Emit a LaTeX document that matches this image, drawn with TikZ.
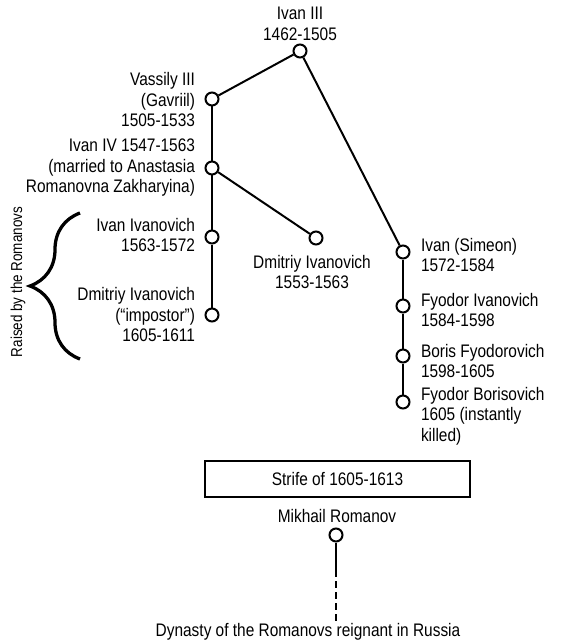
\documentclass[tikz,border=0pt]{standalone}
\usepackage{fontspec}
\setmainfont{Liberation Sans}[FakeStretch=0.85]
\usetikzlibrary{decorations.pathreplacing}

\begin{document}
\begin{tikzpicture}[x=0.03cm, y=-0.03cm, line width=1.7pt,
    every node/.style={font=\fontsize{15.5}{17.5}\selectfont, inner sep=0pt},
    ruler/.style={circle, draw, minimum size=0.39cm},
    lbl/.style={align=right, anchor=east},
    rlbl/.style={align=left, anchor=west}]
    \useasboundingbox (0,0) rectangle (564,642);
    % rulers
    \node[ruler] (ivanIII) at (300,51) {};
    \node[ruler] (vassily) at (212,99) {};
    \node[ruler] (ivanIV) at (212,168) {};
    \node[ruler] (ivanIvan) at (212,237) {};
    \node[ruler] (dmitriyImp) at (212,315) {};
    \node[ruler] (dmitriy) at (316,238) {};
    \node[ruler] (simeon) at (403,252) {};
    \node[ruler] (fyodorI) at (403,306) {};
    \node[ruler] (boris) at (403,356) {};
    \node[ruler] (fyodorB) at (403,402) {};
    \node[ruler] (mikhail) at (336,535) {};
    \coordinate (solidEnd) at (336,577);
    \coordinate (dashEnd) at (336,621);
    % names
    \node[align=center] (ivanIIIname) at (300,24) {Ivan III\\1462-1505};
    \node[lbl] (vassilyName) at (196,100) {Vassily III\\(Gavriil)\\1505-1533};
    \node[lbl] (ivanIVname) at (196,168) {Ivan IV 1547-1563\\(married to Anastasia\\Romanovna Zakharyina)};
    \node[lbl] (ivanIvanName) at (196,235) {Ivan Ivanovich\\1563-1572};
    \node[lbl] (dmitriyImpName) at (196,315) {Dmitriy Ivanovich\\(“impostor”)\\1605-1611};
    \node[align=center] (dmitriyName) at (312,272) {Dmitriy Ivanovich\\1553-1563};
    \node[rlbl] (simeonName) at (420,255) {Ivan (Simeon)\\1572-1584};
    \node[rlbl] (fyodorIname) at (420,310) {Fyodor Ivanovich\\1584-1598};
    \node[rlbl] (borisName) at (420,361) {Boris Fyodorovich\\1598-1605};
    \node[rlbl] (fyodorBname) at (420,416) {Fyodor Borisovich\\1605 (instantly\\killed)};
    \node[draw, minimum width=7.95cm, minimum height=1.08cm] (strife) at (337.5,479) {Strife of 1605-1613};
    \node (mikhailName) at (337,516) {Mikhail Romanov};
    \node (dynasty) at (308,632) {Dynasty of the Romanovs reignant in Russia};
    \node[rotate=90, font=\fontsize{13.5}{15}\selectfont] (raised) at (18,282) {Raised by the Romanovs};
    % lines
    \draw (ivanIII) -- (vassily);
    \draw (ivanIII) -- (simeon);
    \draw (vassily) -- (ivanIV) -- (ivanIvan) -- (dmitriyImp);
    \draw (ivanIV) -- (dmitriy);
    \draw (simeon) -- (fyodorI) -- (boris) -- (fyodorB);
    \draw (mikhail) -- (solidEnd);
    \draw[dash pattern=on 5.5pt off 3.8pt, dash phase=-3.8pt] (solidEnd) -- (dashEnd);
    \draw[line width=2.8pt, decorate, decoration={brace, amplitude=1.5cm}] (80,359) -- (80,213);
\end{tikzpicture}
\end{document}
